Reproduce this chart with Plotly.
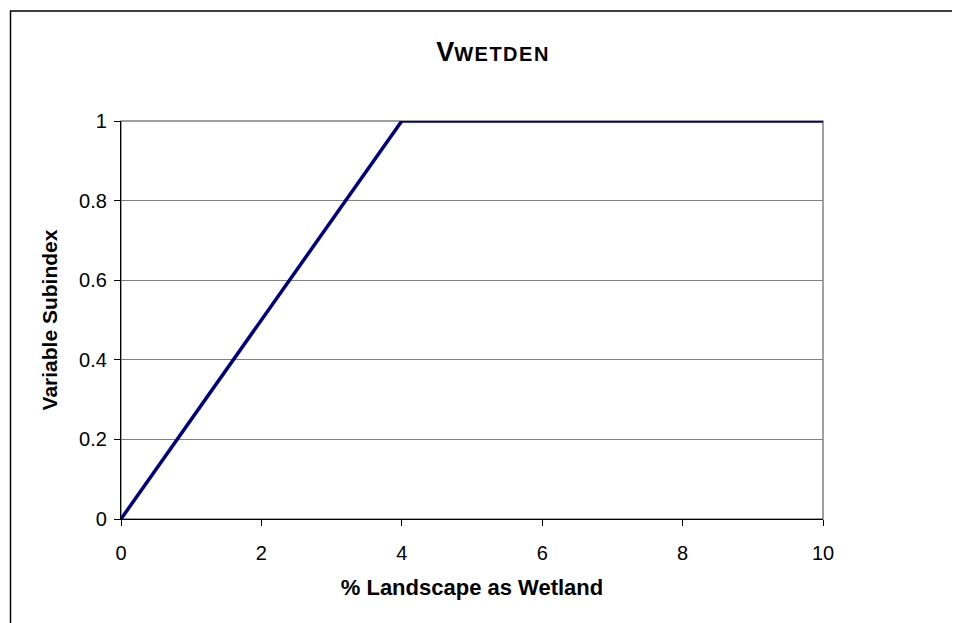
import plotly.graph_objects as go

x_vals = [0, 4, 10]
y_vals = [0, 1, 1]
x_ticks = [0, 2, 4, 6, 8, 10]
y_ticks = [0, 0.2, 0.4, 0.6, 0.8, 1]
y_tick_text = ["0", "0.2", "0.4", "0.6", "0.8", "1"]

OFF = 8  # page body margin
W, H = 960 - OFF, 623 - OFF
L, R, T, B = 121 - OFF, 823 - OFF, 121 - OFF, 519 - OFF
pw, ph = R - L, B - T

def px_x(p):
    return (p - OFF - L) / pw

def px_y(p):
    return (B - (p - OFF)) / ph

FONT = "Liberation Sans, Arial, sans-serif"

fig = go.Figure()
fig.add_trace(go.Scatter(x=x_vals, y=y_vals, mode="lines",
                         line=dict(color="#000080", width=3.5),
                         showlegend=False, cliponaxis=False))

fig.update_layout(
    width=W, height=H,
    margin=dict(l=L, r=W - R, t=T, b=H - B),
    paper_bgcolor="white", plot_bgcolor="white",
    font=dict(family=FONT, color="black", size=20),
    title=dict(text="<b>V<span style='font-size:20px;letter-spacing:1.5px'>WETDEN</span></b>",
               x=(493 - OFF) / W, xanchor="center", y=1 - (61 - OFF) / H, yanchor="bottom",
               font=dict(size=27, family=FONT)),
    xaxis=dict(range=[0, 10], tickvals=x_ticks, ticktext=[str(v) for v in x_ticks],
               showgrid=False, zeroline=False, showline=True, linecolor="black", linewidth=1.3,
               ticks="outside", ticklen=6, tickcolor="black", tickwidth=1,
               ticklabelstandoff=10, tickfont=dict(size=20),
               title=dict(text="<b>% Landscape as Wetland</b>", standoff=16,
                          font=dict(size=22, family=FONT))),
    yaxis=dict(range=[0, 1], tickvals=y_ticks, ticktext=y_tick_text,
               showgrid=True, gridcolor="#808080", gridwidth=1,
               zeroline=False, showline=True, linecolor="black", linewidth=1.3,
               ticks="outside", ticklen=6, tickcolor="black", tickwidth=1,
               ticklabelstandoff=3, tickfont=dict(size=20),
               title=dict(text="<b>Variable Subindex</b>", standoff=15,
                          font=dict(size=21, family=FONT))),
    shapes=[
        dict(type="rect", xref="paper", yref="paper", x0=0, x1=1, y0=0, y1=1,
             line=dict(color="#808080", width=1.5), layer="below"),
        dict(type="rect", xref="paper", yref="paper",
             x0=px_x(10.5), x1=px_x(985), y0=px_y(650), y1=px_y(11),
             line=dict(color="black", width=1.5), fillcolor="rgba(0,0,0,0)"),
    ],
)

fig.write_html("out.html")
